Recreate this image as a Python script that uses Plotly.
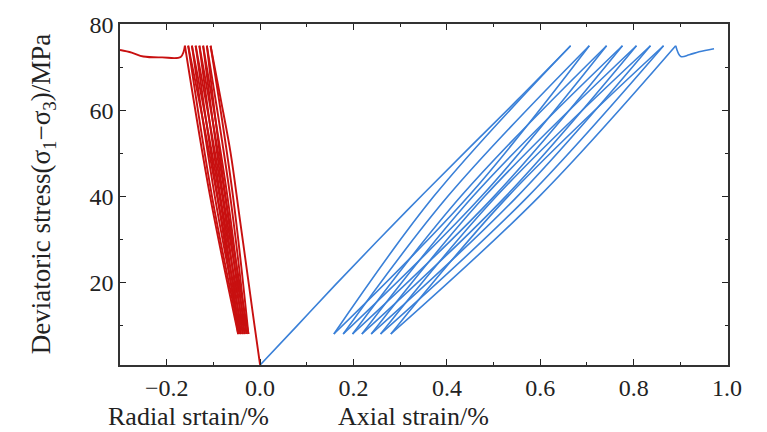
import plotly.graph_objects as go

# ---- Axial strain (%) under cyclic loading ----
axial_load_x = [0.0, 0.08, 0.16, 0.25, 0.35, 0.45, 0.55, 0.665]
axial_load_y = [0.8, 10.0, 19.3, 29.5, 40.6, 51.5, 62.3, 75.0]
axial_peak_x = [0.665, 0.705, 0.742, 0.776, 0.806, 0.836, 0.864, 0.890]
axial_peak_y = [75.0, 75.0, 75.0, 75.0, 75.0, 75.0, 75.0, 75.0]
axial_valley_x = [0.158, 0.178, 0.198, 0.218, 0.238, 0.258, 0.280]
axial_valley_y = [8.0, 8.0, 8.0, 8.0, 8.0, 8.0, 8.0]
axial_unload_mid_x = [0.372, 0.402, 0.430, 0.456, 0.481, 0.506, 0.531]
axial_reload_mid_x = [0.446, 0.474, 0.501, 0.526, 0.551, 0.574, 0.598]
axial_tail_x = [0.890, 0.901, 0.919, 0.940, 0.972]
axial_tail_y = [75.0, 72.5, 72.9, 73.6, 74.3]

# ---- Radial strain (%) under cyclic loading ----
radial_load_x = [0.0, -0.012, -0.024, -0.045, -0.063, -0.085, -0.106]
radial_load_y = [0.8, 10.0, 19.5, 36.0, 50.0, 63.0, 75.0]
radial_peak_x = [-0.106, -0.114, -0.122, -0.130, -0.138, -0.146, -0.154, -0.161]
radial_peak_y = [75.0, 75.0, 75.0, 75.0, 75.0, 75.0, 75.0, 75.0]
radial_valley_x = [-0.025, -0.029, -0.033, -0.037, -0.041, -0.044, -0.047]
radial_valley_y = [8.0, 8.0, 8.0, 8.0, 8.0, 8.0, 8.0]
radial_unload_mid_x = [-0.058, -0.064, -0.070, -0.075, -0.081, -0.087, -0.092]
radial_reload_mid_x = [-0.074, -0.079, -0.085, -0.091, -0.097, -0.103, -0.107]
radial_tail_x = [-0.161, -0.170, -0.210, -0.250, -0.275, -0.300]
radial_tail_y = [75.0, 72.4, 72.3, 72.5, 73.4, 74.0]

mid_stress = 40.0


def cyclic_path(load_x, load_y, peak_x, peak_y, valley_x, valley_y,
                unload_mid, reload_mid, tail_x, tail_y):
    """Join loading, unloading/reloading branches and the tail into one
    trace; None gaps keep the loop tips sharp while each branch is smoothed."""
    xs, ys = list(load_x) + [None], list(load_y) + [None]
    for k in range(len(valley_x)):
        xs += [peak_x[k], unload_mid[k], valley_x[k], None]
        ys += [peak_y[k], mid_stress, valley_y[k], None]
        xs += [valley_x[k], reload_mid[k], peak_x[k + 1], None]
        ys += [valley_y[k], mid_stress, peak_y[k + 1], None]
    xs += list(tail_x)
    ys += list(tail_y)
    return xs, ys


ax_x, ax_y = cyclic_path(axial_load_x, axial_load_y, axial_peak_x, axial_peak_y,
                         axial_valley_x, axial_valley_y, axial_unload_mid_x,
                         axial_reload_mid_x, axial_tail_x, axial_tail_y)
rd_x, rd_y = cyclic_path(radial_load_x, radial_load_y, radial_peak_x, radial_peak_y,
                         radial_valley_x, radial_valley_y, radial_unload_mid_x,
                         radial_reload_mid_x, radial_tail_x, radial_tail_y)

fig = go.Figure()
fig.add_trace(go.Scatter(x=rd_x, y=rd_y, mode="lines", connectgaps=False,
                         line=dict(color="#c81010", width=1.9, shape="spline", smoothing=1.0),
                         showlegend=False, hoverinfo="skip"))
fig.add_trace(go.Scatter(x=ax_x, y=ax_y, mode="lines", connectgaps=False,
                         line=dict(color="#3a80d8", width=1.6, shape="spline", smoothing=1.0),
                         showlegend=False, hoverinfo="skip"))

x_ticks = [-0.2, 0.0, 0.2, 0.4, 0.6, 0.8, 1.0]
x_tick_text = ["\u22120.2", "0.0", "0.2", "0.4", "0.6", "0.8", "1.0"]
y_ticks = [20, 40, 60, 80]

tick_font = dict(family="Liberation Serif", size=24, color="#222222")

fig.update_xaxes(
    range=[-0.3, 1.002], tickvals=x_ticks, ticktext=x_tick_text,
    ticks="inside", ticklen=6, tickwidth=1.3, tickcolor="#222222",
    minor=dict(dtick=0.1, tick0=0, ticks="inside", ticklen=3, tickcolor="#222222"),
    showline=True, linecolor="#333333", linewidth=1.6, mirror="ticks",
    showgrid=False, zeroline=False, tickfont=tick_font,
)
fig.update_yaxes(
    range=[0.8, 80.05], tickvals=y_ticks,
    ticks="inside", ticklen=6, tickwidth=1.3, tickcolor="#222222",
    minor=dict(dtick=10, tick0=0, ticks="inside", ticklen=3, tickcolor="#222222"),
    showline=True, linecolor="#333333", linewidth=1.6, mirror="ticks",
    showgrid=False, zeroline=False, tickfont=tick_font,
)

title_font = dict(family="Liberation Serif", size=27, color="#222222")
label_font = dict(family="Liberation Serif", size=26, color="#222222")
fig.add_annotation(text="Deviatoric stress(\u03c3<sub>1</sub>\u2212\u03c3<sub>3</sub>)/MPa",
                   xref="paper", yref="paper", x=-0.127, y=0.5, textangle=-90,
                   xanchor="center", yanchor="middle", showarrow=False, font=title_font)
fig.add_annotation(text="Radial srtain/%", xref="paper", yref="paper",
                   x=-0.023, y=-0.151, xanchor="left", yanchor="middle",
                   showarrow=False, font=label_font)
fig.add_annotation(text="Axial strain/%", xref="paper", yref="paper",
                   x=0.355, y=-0.151, xanchor="left", yanchor="middle",
                   showarrow=False, font=label_font)

fig.update_layout(
    width=767, height=432,
    margin=dict(l=120, r=39, t=20, b=67),
    paper_bgcolor="white", plot_bgcolor="white",
)

fig.write_html("out.html")
